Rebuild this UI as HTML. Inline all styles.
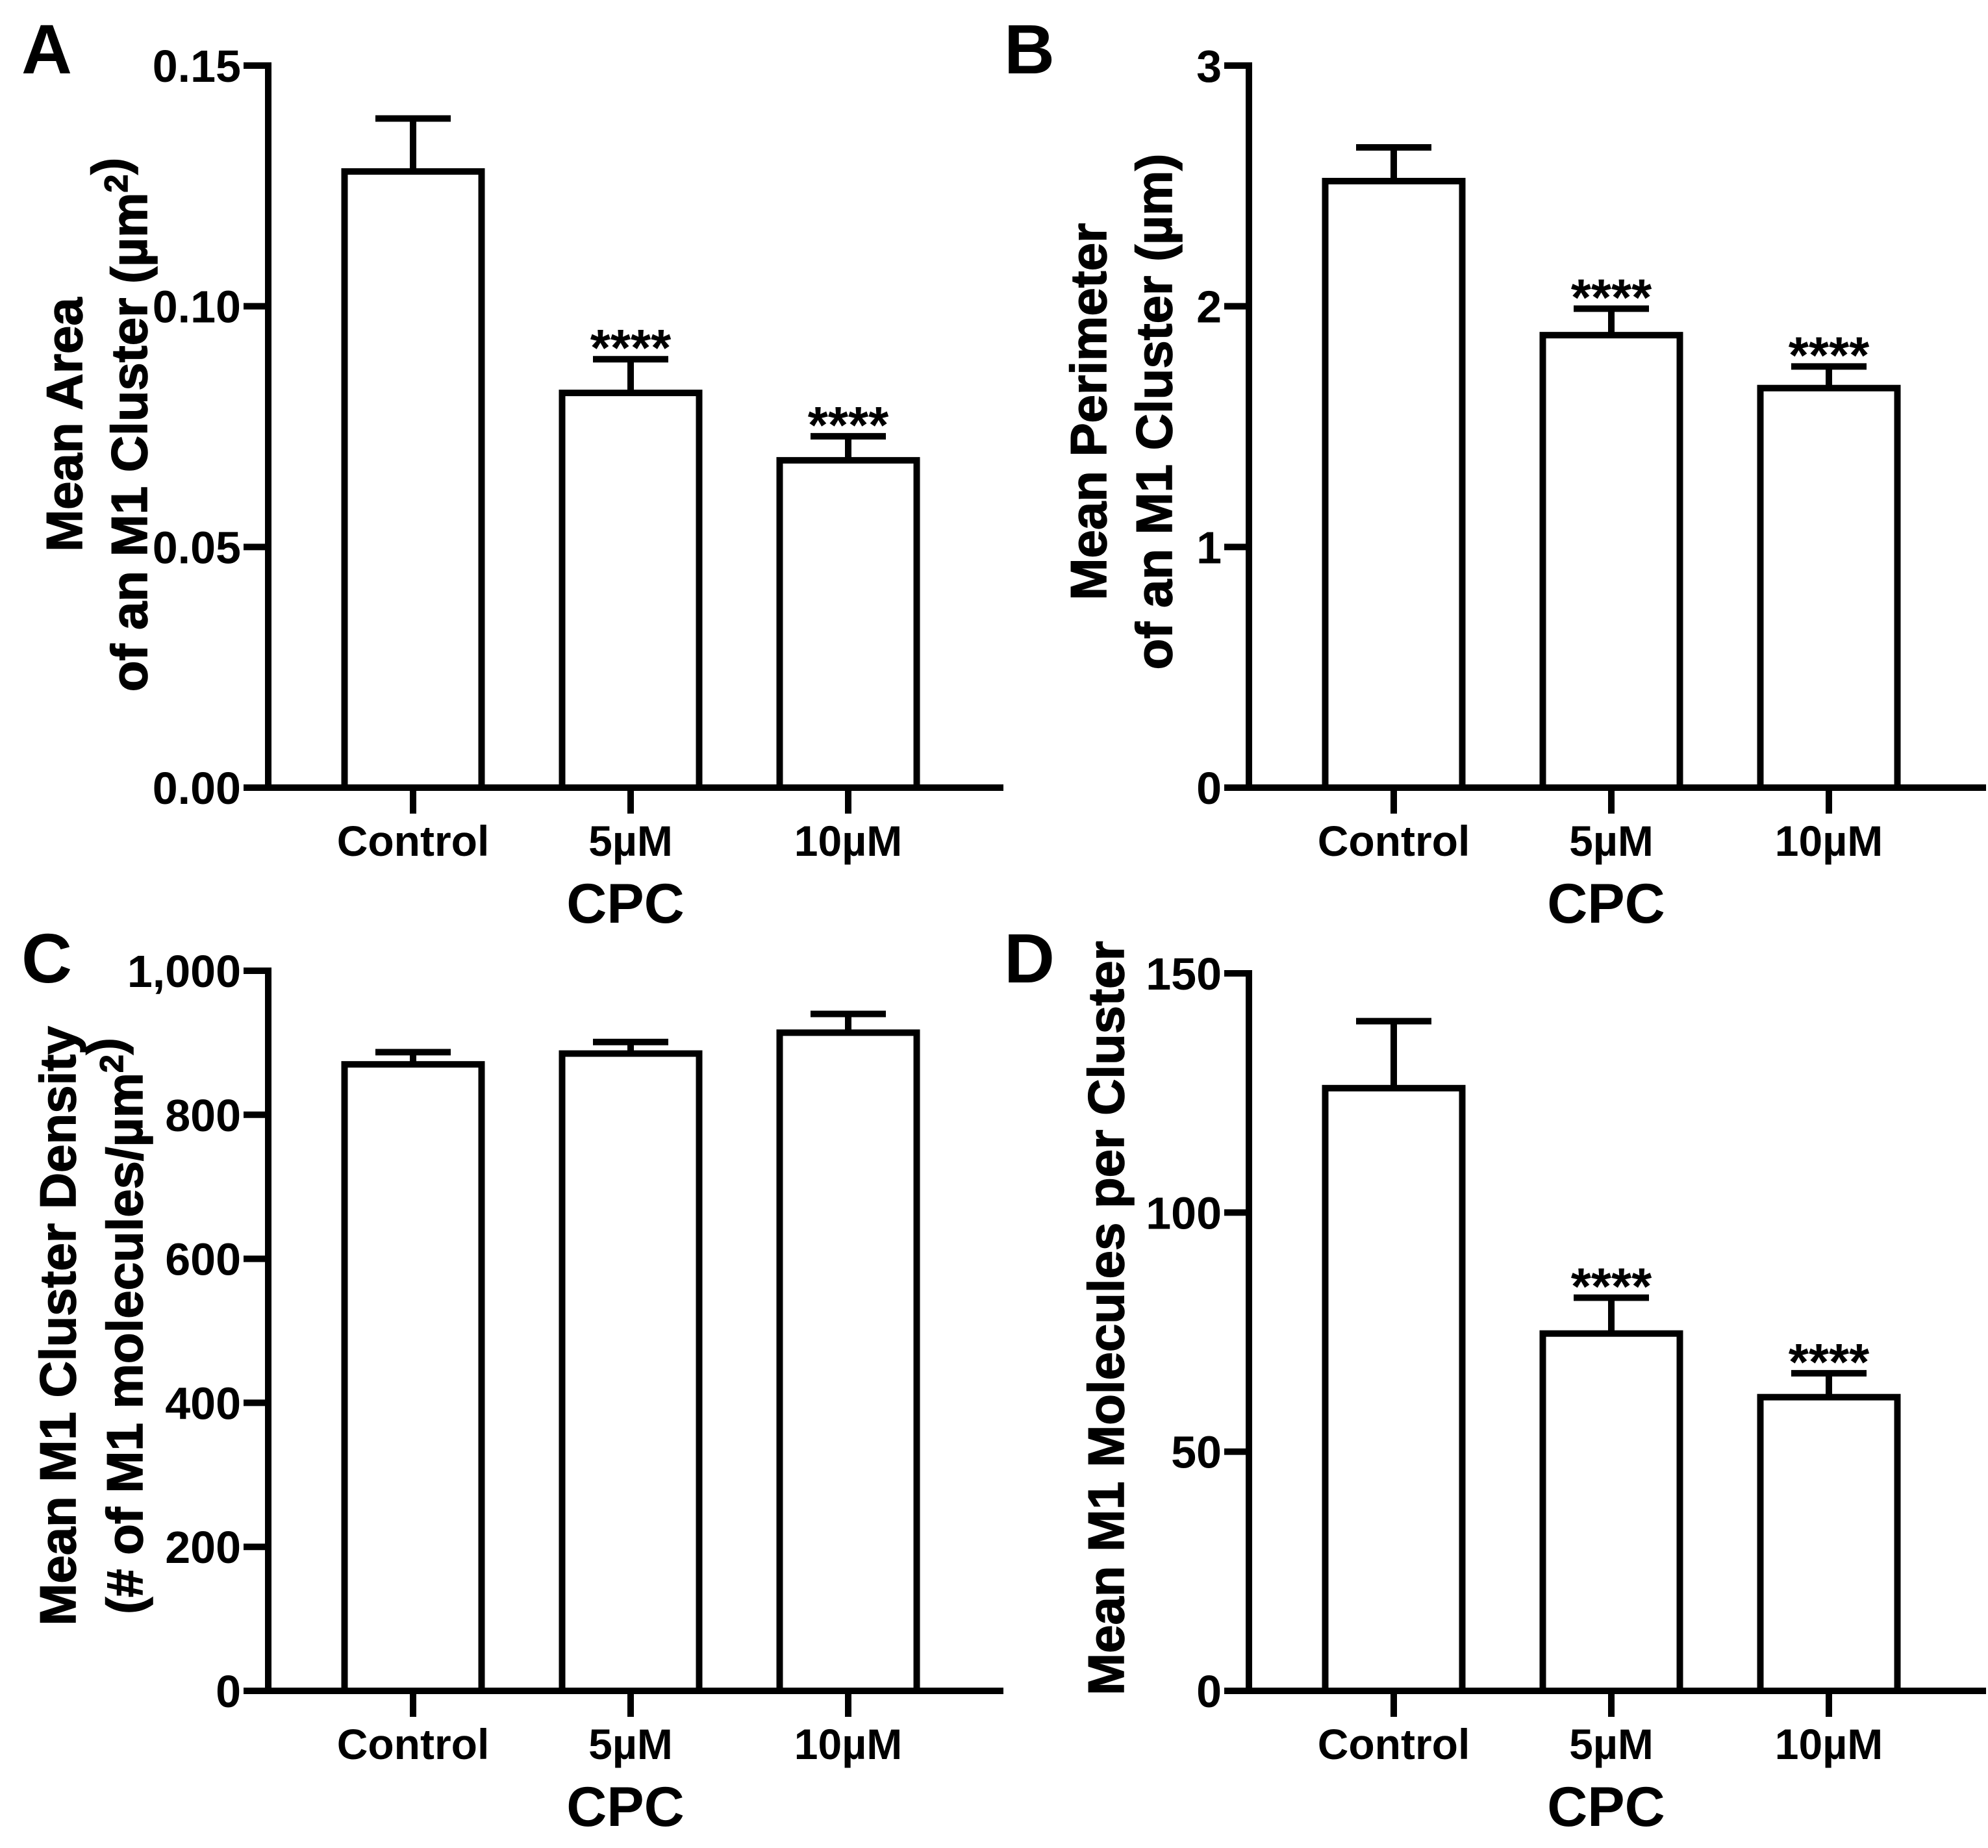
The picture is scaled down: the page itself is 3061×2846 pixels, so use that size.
<!DOCTYPE html>
<html><head><meta charset="utf-8"><style>
html,body{margin:0;padding:0;background:#fff}
svg{display:block}
text{font-family:"Liberation Sans",Arial,sans-serif;font-weight:bold;fill:#000}
</style></head><body>
<svg id="fig" width="3061" height="2846" viewBox="0 0 3061 2846" xmlns="http://www.w3.org/2000/svg"></svg>
<script>
const categories = ["Control", "5µM", "10µM"];
const valuesA = [0.128, 0.082, 0.068];
const errA = [0.139, 0.089, 0.073];
const sigA = ["", "****", "****"];
const ticksA = [0, 0.05, 0.10, 0.15];
const tickLabelsA = ["0.00", "0.05", "0.10", "0.15"];
const valuesB = [2.52, 1.88, 1.66];
const errB = [2.66, 1.99, 1.75];
const sigB = ["", "****", "****"];
const ticksB = [0, 1, 2, 3];
const tickLabelsB = ["0", "1", "2", "3"];
const valuesC = [870, 885, 914];
const errC = [887, 901, 940];
const sigC = ["", "", ""];
const ticksC = [0, 200, 400, 600, 800, 1000];
const tickLabelsC = ["0", "200", "400", "600", "800", "1,000"];
const valuesD = [126, 74.7, 61.4];
const errD = [140, 82.2, 66.4];
const sigD = ["", "****", "****"];
const ticksD = [0, 50, 100, 150];
const tickLabelsD = ["0", "50", "100", "150"];

const NS = "http://www.w3.org/2000/svg";
const svg = document.getElementById("fig");
function mk(tag, attrs, parent, txt) {
  const e = document.createElementNS(NS, tag);
  for (const k in attrs) e.setAttribute(k, attrs[k]);
  if (txt !== undefined) e.textContent = txt;
  parent.appendChild(e);
  return e;
}

function panel(cfg) {
  const g = mk("g", {}, svg);
  
  
  const ax = cfg.ax, y0 = cfg.y0, yTop = cfg.yTop, max = cfg.max;
  const yS = v => y0 - (v / max) * (y0 - yTop);
  const xS = i => ax + 223 + i * 335;
  const bw = 211;
  const L = mk("text", {x: cfg.lx, y: cfg.ly, "font-size": 108}, g, cfg.letter);
  
  
  const ya = mk("line", {x1: ax, y1: yTop - 5, x2: ax, y2: y0 + 5, stroke: "#000", "stroke-width": 10}, g);
  
  
  cfg.ticks.forEach((t, i) => {
    const y = yS(t);
    const tk = mk("line", {x1: ax - 38, y1: y, x2: ax, y2: y, stroke: "#000", "stroke-width": 10}, g);
    
    
    const tl = mk("text", {x: ax - 42, y: y + 25, "font-size": 70, "text-anchor": "end"}, g, cfg.tickLabels[i]);
    
    
  });
  const xa = mk("line", {x1: ax - 5, y1: y0, x2: cfg.xEnd, y2: y0, stroke: "#000", "stroke-width": 10}, g);
  
  
  categories.forEach((c, i) => {
    const cx = xS(i);
    const v = cfg.values[i], e = cfg.err[i];
    const eb = mk("line", {x1: cx, y1: yS(v), x2: cx, y2: yS(e), stroke: "#000", "stroke-width": 10}, g);
    
    
    const cap = mk("line", {x1: cx - 58, y1: yS(e), x2: cx + 58, y2: yS(e), stroke: "#000", "stroke-width": 10}, g);
    
    
    const r = mk("rect", {x: cx - bw / 2, y: yS(v), width: bw, height: y0 - yS(v), fill: "#fff", stroke: "#000", "stroke-width": 10}, g);
    
    
    const xt = mk("line", {x1: cx, y1: y0, x2: cx, y2: y0 + 40, stroke: "#000", "stroke-width": 10}, g);
    
    
    const xl = mk("text", {x: cx, y: y0 + 105, "font-size": 66, "text-anchor": "middle"}, g, c);
    
    
    if (cfg.sig[i]) {
      const s = mk("text", {x: cx, y: yS(e) + 10, "font-size": 80, "text-anchor": "middle"}, g, cfg.sig[i]);
      
      
    }
  });
  const xt = mk("text", {x: xS(1) - 8, y: y0 + 208, "font-size": 86, "text-anchor": "middle"}, g, "CPC");
  
  
  cfg.titles.forEach((t, i) => {
    const tx = cfg.titleX[i];
    const yt = mk("text", {x: tx, y: cfg.titleY, "font-size": 78, "text-anchor": "middle", stroke: "#000", "stroke-width": 1.5, transform: `rotate(-90 ${tx} ${cfg.titleY})`}, g);
    
    
    t.forEach(part => {
      const ts = mk("tspan", part.sup ? {"font-size": 50} : {}, yt, part.t);
      if (part.sup) ts.setAttribute("dy", "-30");
    });
  });
}

panel({name: "panel-a", letter: "A", lx: 33, ly: 113, ax: 413, y0: 1213, yTop: 101, max: 0.15, xEnd: 1545,
  values: valuesA, err: errA, sig: sigA, ticks: ticksA, tickLabels: tickLabelsA,
  titleX: [126, 226], titleY: 654,
  titles: [[{t: "Mean Area"}], [{t: "of an M1 Cluster (µm"}, {t: "2", sup: true}, {t: ")"}]]});
panel({name: "panel-b", letter: "B", lx: 1546, ly: 113, ax: 1923, y0: 1213, yTop: 101, max: 3, xEnd: 3058,
  values: valuesB, err: errB, sig: sigB, ticks: ticksB, tickLabels: tickLabelsB,
  titleX: [1703, 1804], titleY: 634,
  titles: [[{t: "Mean Perimeter"}], [{t: "of an M1 Cluster (µm)"}]]});
panel({name: "panel-c", letter: "C", lx: 33, ly: 1513, ax: 413, y0: 2604, yTop: 1495, max: 1000, xEnd: 1545,
  values: valuesC, err: errC, sig: sigC, ticks: ticksC, tickLabels: tickLabelsC,
  titleX: [116, 219], titleY: 2042,
  titles: [[{t: "Mean M1 Cluster Density"}], [{t: "(# of M1 molecules/µm"}, {t: "2", sup: true}, {t: ")"}]]});
panel({name: "panel-d", letter: "D", lx: 1546, ly: 1513, ax: 1923, y0: 2604, yTop: 1499, max: 150, xEnd: 3058,
  values: valuesD, err: errD, sig: sigD, ticks: ticksD, tickLabels: tickLabelsD,
  titleX: [1730], titleY: 2030,
  titles: [[{t: "Mean M1 Molecules per Cluster"}]]});
</script>
</body></html>
